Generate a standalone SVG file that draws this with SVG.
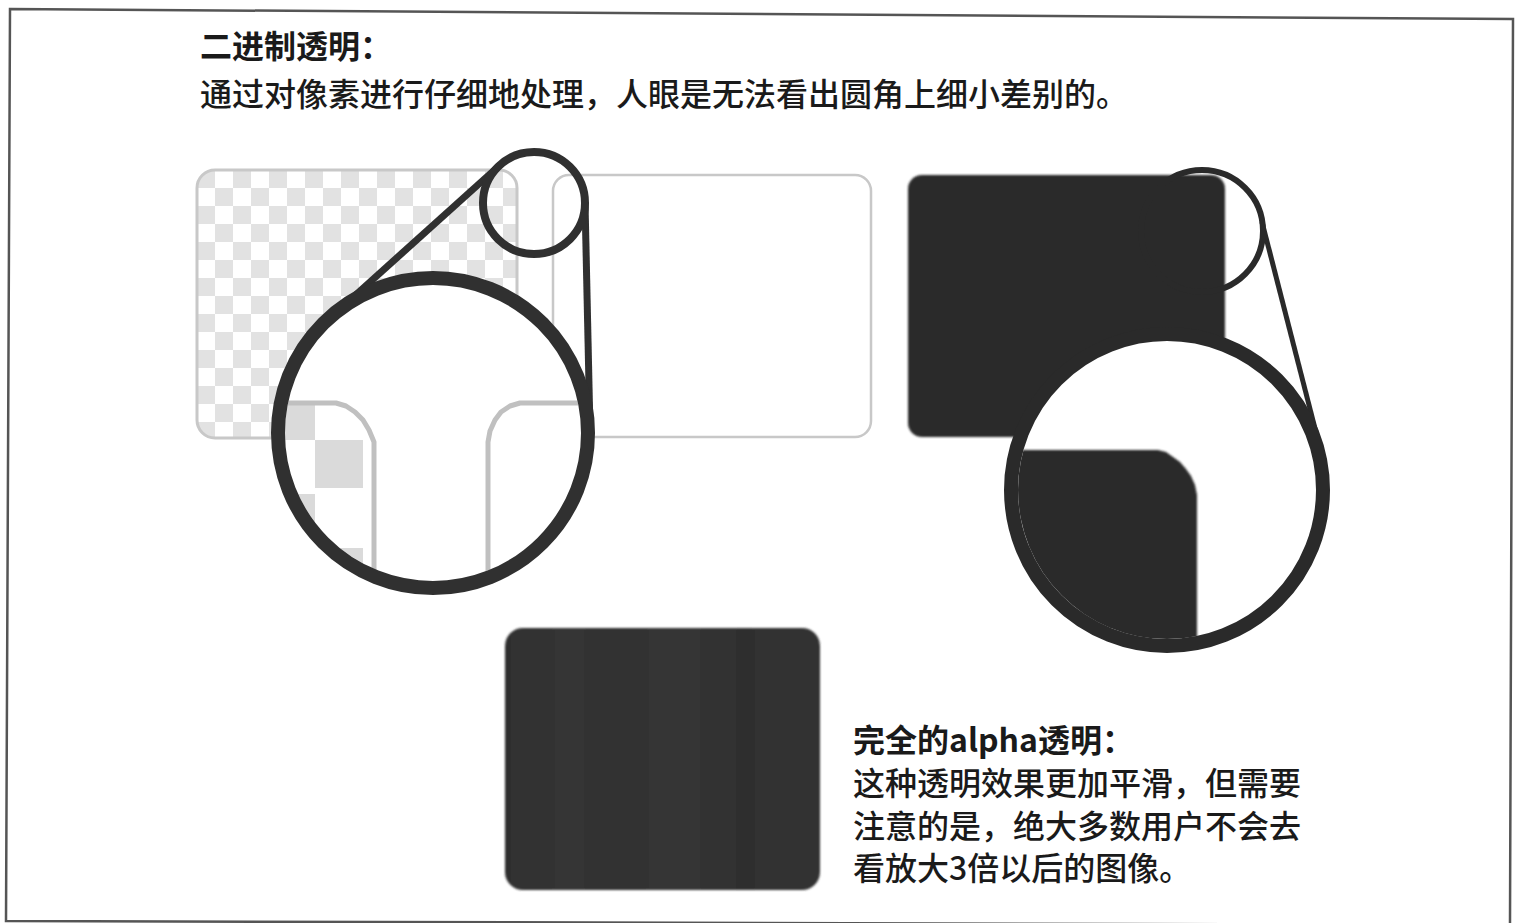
<svg xmlns="http://www.w3.org/2000/svg" width="1515" height="923" viewBox="0 0 1515 923">
<style>
  .txt { font-family: "Noto Sans CJK SC", "Noto Sans", sans-serif; fill: #1a1a1a; font-size: 32px; }
  .title { font-weight: 700; }
  .body { font-weight: 500; }
  .ring { fill: none; stroke: #303030; }
  .ringd { fill: none; stroke: #2a2a2a; }
  .edge { fill: none; stroke: #c0c0c0; stroke-width: 5; stroke-linejoin: round; }
  .sq { fill: #dadada; }
  .dark { fill: #2a2a2a; }
</style>
<defs>
  <pattern id="checker" x="197" y="170" width="36" height="36" patternUnits="userSpaceOnUse">
    <rect x="0" y="0" width="18" height="18" fill="#e2e2e2"/>
    <rect x="18" y="18" width="18" height="18" fill="#e2e2e2"/>
  </pattern>
  <linearGradient id="streak" x1="0" y1="0" x2="1" y2="0">
    <stop offset="0" stop-color="#2f2f2f"/>
    <stop offset="0.2" stop-color="#353535"/>
    <stop offset="0.35" stop-color="#313131"/>
    <stop offset="0.55" stop-color="#363636"/>
    <stop offset="0.75" stop-color="#2f2f2f"/>
    <stop offset="1" stop-color="#333"/>
  </linearGradient>
  <filter id="soft" x="-5%" y="-5%" width="110%" height="110%">
    <feGaussianBlur stdDeviation="1.2"/>
  </filter>
  <clipPath id="clipL"><circle cx="433" cy="433" r="148"/></clipPath>
  <clipPath id="clipLin"><rect x="260" y="405" width="112" height="200"/></clipPath>
  <clipPath id="clipR"><circle cx="1167" cy="490" r="149"/></clipPath>
</defs>

<polygon points="10,9 1513,19 1510,925 6,921" fill="none" stroke="#555" stroke-width="2.5"/>

<g id="caption-top">
  <text class="txt title" x="200" y="58">二进制透明：</text>
  <text class="txt body" x="200" y="106">通过对像素进行仔细地处理，人眼是无法看出圆角上细小差别的。</text>
</g>

<g id="checker-sample">
  <rect x="197" y="170" width="320" height="268" rx="18" fill="url(#checker)" stroke="#c8c8c8" stroke-width="3"/>
</g>

<g id="white-sample">
  <rect x="553" y="175" width="318" height="262" rx="16" fill="#fff" stroke="#c8c8c8" stroke-width="2.5"/>
</g>

<g id="dark-sample">
  <rect x="908" y="175" width="317" height="262" rx="14" class="dark" filter="url(#soft)"/>
</g>

<g id="bottom-sample">
  <rect x="505" y="628" width="315" height="262" rx="18" fill="url(#streak)" filter="url(#soft)"/>
</g>

<g id="connectors">
  <line x1="500" y1="165" x2="330" y2="318" stroke="#303030" stroke-width="7"/>
  <line x1="585" y1="202" x2="590" y2="431" stroke="#303030" stroke-width="7"/>
  <line x1="1262" y1="222" x2="1318" y2="440" stroke="#2a2a2a" stroke-width="5"/>
</g>

<g id="magnifier-left">
  <circle cx="433" cy="433" r="155" fill="#fff"/>
  <g clip-path="url(#clipL)">
    <g clip-path="url(#clipLin)">
      <rect class="sq" x="261" y="386" width="54" height="54"/>
      <rect class="sq" x="315" y="440" width="48" height="48"/>
      <rect class="sq" x="261" y="494" width="54" height="54"/>
      <rect class="sq" x="315" y="548" width="48" height="54"/>
    </g>
    <path class="edge" d="M262,403 H336 L346,406 L355,412 L363,420 L369,430 L374,442 V600"/>
    <path class="edge" d="M605,403 H520 L510,406 L501,412 L495,420 L490,431 L488,442 V600"/>
  </g>
  <circle class="ring" cx="433" cy="433" r="155" stroke-width="14"/>
  <circle class="ring" cx="534" cy="203" r="51" stroke-width="8"/>
</g>

<g id="magnifier-right">
  <circle cx="1167" cy="490" r="156" fill="#fff"/>
  <g clip-path="url(#clipR)">
    <path class="dark" filter="url(#soft)" d="M990,450 H1158 L1166,452 L1173,457 L1180,462 L1186,469 L1191,476 L1195,485 L1197,495 V665 H990 Z"/>
  </g>
  <circle class="ringd" cx="1167" cy="490" r="156" stroke-width="14"/>
  <circle class="ringd" cx="1202" cy="231" r="61" stroke-width="6"/>
</g>

<g id="caption-bottom">
  <text class="txt title" x="853" y="752">完全的alpha透明：</text>
  <text class="txt body" x="853" y="795">这种透明效果更加平滑，但需要</text>
  <text class="txt body" x="853" y="838">注意的是，绝大多数用户不会去</text>
  <text class="txt body" x="853" y="880">看放大3倍以后的图像。</text>
</g>
</svg>
